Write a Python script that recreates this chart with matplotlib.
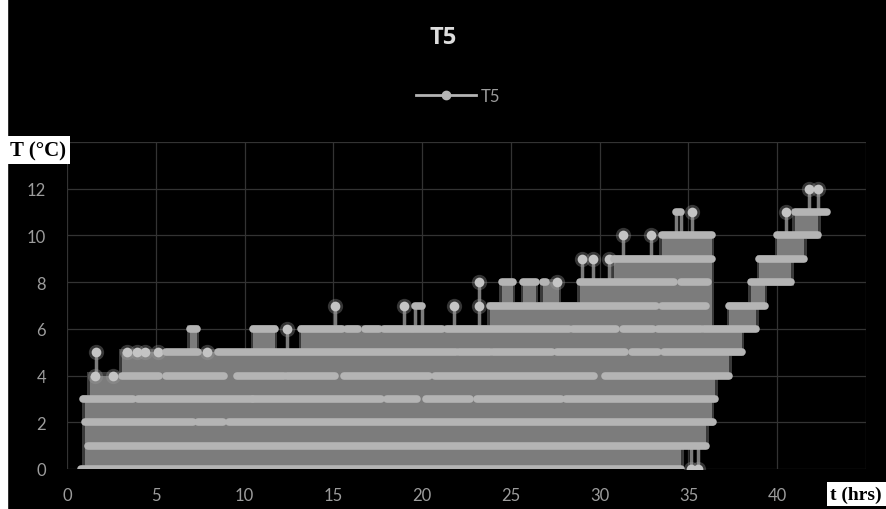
import matplotlib
matplotlib.use("Agg")
import matplotlib.pyplot as plt
from matplotlib.lines import Line2D

# time runs (hrs) where the T5 readings sit on each level (deg C)
runs_0 = [(0.8, 34.6), (35.15, 35.15), (35.55, 35.55)]
runs_1 = [(1.2, 36.0)]
runs_2 = [(1.0, 7.1), (7.4, 8.8), (9.1, 36.4)]
runs_3 = [(0.9, 3.7), (4.0, 10.4), (10.5, 17.7), (18.0, 19.7), (20.2, 22.7),
          (23.1, 27.8), (28.1, 36.5)]
runs_4 = [(1.6, 1.6), (2.6, 2.6), (3.1, 5.2), (5.55, 8.85), (9.6, 12.2),
          (12.4, 15.1), (15.6, 20.4), (20.7, 29.7), (30.3, 37.3)]
runs_5 = [(1.64, 1.64), (3.4, 3.4), (3.97, 3.97), (4.4, 4.4), (5.1, 5.1),
          (5.55, 7.4), (7.9, 7.9), (8.5, 21.9), (22.1, 23.8), (24.0, 27.3),
          (27.6, 31.4), (31.8, 33.3), (33.6, 38.0)]
runs_6 = [(6.9, 7.3), (10.5, 11.7), (12.4, 12.4), (13.2, 15.5), (15.75, 16.4),
          (16.8, 17.6), (17.85, 19.4), (19.5, 21.1), (21.4, 28.3), (28.5, 30.9),
          (31.3, 33.0), (33.3, 35.7), (35.9, 38.8)]
runs_7 = [(15.1, 15.1), (19.0, 19.0), (19.6, 20.0), (21.8, 21.8), (23.2, 23.2),
          (23.8, 33.2), (33.5, 36.0), (37.3, 39.3)]
runs_8 = [(23.2, 23.2), (24.5, 25.1), (25.7, 26.4), (26.8, 27.0), (27.6, 27.6),
          (28.9, 34.2), (34.6, 36.1), (38.5, 40.8)]
runs_9 = [(29.0, 29.0), (29.6, 29.6), (30.5, 30.5), (30.8, 36.3), (39.0, 41.5)]
runs_10 = [(31.3, 31.3), (32.9, 32.9), (33.5, 36.3), (40.0, 42.3)]
runs_11 = [(34.3, 34.6), (35.2, 35.2), (40.5, 40.5), (41.0, 42.8)]
runs_12 = [(41.8, 41.8), (42.3, 42.3)]

# range swept by the trace: (t start, t end, low T, high T)
sweep = [(1.0, 1.3, 0, 3), (1.3, 3.1, 0, 4), (3.1, 6.9, 0, 5), (6.9, 7.3, 0, 6),
         (7.3, 10.5, 0, 5), (10.5, 11.7, 0, 6), (11.7, 13.2, 0, 5),
         (13.2, 23.8, 0, 6), (23.8, 24.5, 0, 7), (24.5, 25.1, 0, 8),
         (25.1, 25.7, 0, 7), (25.7, 26.4, 0, 8), (26.4, 26.8, 0, 7),
         (26.8, 27.7, 0, 8), (27.7, 28.9, 0, 7), (28.9, 30.8, 0, 8),
         (30.8, 33.5, 0, 9), (33.5, 34.6, 0, 10), (34.6, 36.0, 1, 10),
         (36.0, 36.3, 2, 10), (36.3, 36.5, 3, 6), (36.5, 37.3, 4, 6),
         (37.3, 38.0, 5, 7), (38.0, 38.5, 6, 7), (38.5, 38.8, 6, 8),
         (38.8, 39.0, 7, 8), (39.0, 39.3, 7, 9), (39.3, 40.0, 8, 9),
         (40.0, 40.8, 8, 10), (40.8, 41.0, 9, 10), (41.0, 41.5, 9, 11),
         (41.5, 42.3, 10, 11)]

# single jumps sticking out of the swept range: (t, from T, to T)
jumps = [(1.64, 4, 5), (12.4, 5, 6), (15.1, 6, 7), (19.0, 6, 7), (19.6, 6, 7),
         (20.0, 6, 7), (21.8, 6, 7), (23.2, 6, 8), (29.0, 8, 9), (29.6, 8, 9),
         (30.5, 8, 9), (31.3, 9, 10), (32.9, 9, 10), (34.3, 10, 11),
         (34.6, 10, 11), (35.2, 10, 11), (35.15, 0, 1), (35.55, 0, 1),
         (40.5, 10, 11), (41.8, 11, 12), (42.3, 11, 12)]

runs = [runs_0, runs_1, runs_2, runs_3, runs_4, runs_5, runs_6,
        runs_7, runs_8, runs_9, runs_10, runs_11, runs_12]

fill_col = "#7c7c7c"
mark_col = "#b4b4b4"
text_col = "#9c9c9c"
grid_col = "#333333"

fig = plt.figure(figsize=(8.86, 5.10), dpi=100, facecolor="black")
ax = fig.add_axes([67 / 886, 40 / 510, 799 / 886, 327 / 510], facecolor="black")

# soft halo behind the swept band, then the band itself
for t0, t1, lo, hi in sweep:
    ax.bar(t0 - 0.15, hi - lo + 0.3, bottom=lo - 0.15, width=t1 - t0 + 0.3,
           align="edge", color="#3a3a3a", linewidth=0, zorder=2)
for t0, t1, lo, hi in sweep:
    ax.bar(t0, hi - lo, bottom=lo, width=t1 - t0, align="edge",
           color=fill_col, linewidth=0, zorder=3)

for t, lo, hi in jumps:
    ax.vlines(t, lo, hi, color=fill_col, lw=2.5, zorder=3)

for lvl, rr in enumerate(runs):
    for a, b in rr:
        if b - a < 0.05:
            ax.plot([a], [lvl], "o", ms=11, color="#9a9a9a", alpha=0.35, mew=0, zorder=4)
            ax.plot([a], [lvl], "o", ms=7, color="#c4c4c4", mew=0, zorder=5)
        else:
            ax.plot([a, b], [lvl, lvl], color=mark_col, lw=5.5,
                    solid_capstyle="round", zorder=5)

ax.set_xlim(0, 45)
ax.set_ylim(0, 14)
xt = list(range(0, 46, 5))
yt = list(range(0, 15, 2))
ax.set_xticks(xt)
ax.set_xticklabels([str(v) if v < 45 else "" for v in xt])
ax.set_yticks(yt)
ax.set_yticklabels([str(v) if v < 14 else "" for v in yt])
ax.tick_params(length=0, colors=text_col, labelsize=12)
ax.tick_params(axis="y", pad=15)
ax.tick_params(axis="x", pad=13)
for lab in ax.get_xticklabels() + ax.get_yticklabels():
    lab.set_family("Lato")
ax.grid(True, color=grid_col, lw=0.9)
ax.set_axisbelow(True)
for s in ax.spines.values():
    s.set_visible(False)

fig.text(443 / 886, 1 - 38 / 510, "T5", color="#dddddd", fontsize=17,
         fontweight="bold", family="Open Sans", ha="center", va="center")

h = Line2D([], [], color=mark_col, lw=2, marker="o", ms=6)
leg = ax.legend([h], ["T5"], loc="center", bbox_to_anchor=(458 / 886, 1 - 97 / 510),
                bbox_transform=fig.transFigure, frameon=False, handlelength=3.6,
                handletextpad=0.3, prop={"family": "Lato", "size": 12})
for txt in leg.get_texts():
    txt.set_color(text_col)

box = dict(facecolor="white", edgecolor="none", pad=2.5)
fig.text(10 / 886, 1 - 151 / 510, "T (°C)", color="black", fontsize=15,
         fontweight="bold", family="Liberation Serif", va="center", bbox=box)
fig.text(882 / 886, 1 - 495 / 510, "t (hrs)", color="black", fontsize=14,
         fontweight="bold", family="Liberation Serif", ha="right", va="center",
         bbox=box)

# light frame edge on the left of the scan
fig.add_artist(plt.Rectangle((0, 0), 7 / 886, 1, transform=fig.transFigure,
                             color="white", zorder=10))

fig.savefig("out.png", dpi=100, facecolor="black")
